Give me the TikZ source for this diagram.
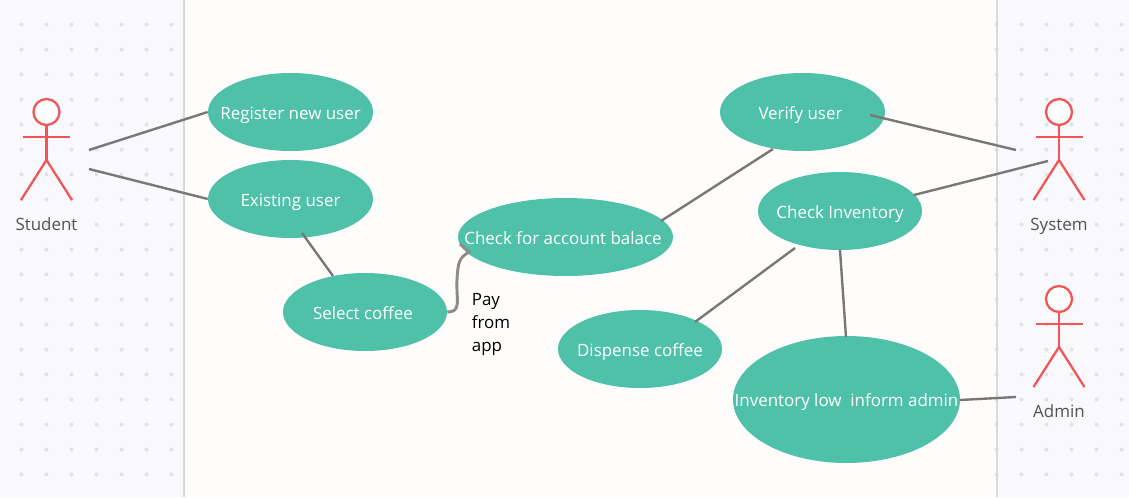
\documentclass[tikz,border=0pt]{standalone}
\usepackage{fontspec}
\setmainfont{Open Sans}
\usetikzlibrary{shapes.geometric}
\definecolor{bandfill}{HTML}{F9F9FD}
\definecolor{midfill}{HTML}{FEFDFB}
\definecolor{banddot}{HTML}{E2E2E4}
\definecolor{bandline}{HTML}{D9D9D7}
\definecolor{usefill}{HTML}{50C1A9}
\definecolor{actorred}{HTML}{F25555}
\definecolor{linkgrey}{HTML}{7A7876}
\newcommand{\casetext}[2][0pt]{\makebox[0pt]{\hspace*{#1}#2}}
\tikzset{
  usecase/.style={ellipse, fill=usefill, text=white, inner sep=0pt, text height=13.5pt, text depth=2.5pt, font=\fontsize{12.7pt}{15pt}\selectfont},
  actorlabel/.style={text=black!68, inner sep=0pt, text height=9pt, text depth=2.5pt, font=\fontsize{12.7pt}{15pt}\selectfont},
  link/.style={draw=linkgrey, line width=1.8pt},
  limb/.style={draw=actorred, line width=1.7pt},
  pics/actor/.style={code={
    \node[circle, draw=actorred, fill=white, line width=1.7pt, minimum size=19.5pt, inner sep=0pt] (-head) at (0,0) {};
    \draw[limb] (-head) -- (0,48);
    \draw[limb] (-23.5,25) -- (23.5,25);
    \draw[limb] (-25.5,88) -- (0,48) -- (25.5,88);
    \node[actorlabel] (-label) at (0,114.5) {#1};
  }}
}
\begin{document}
\begin{tikzpicture}[x=0.75pt, y=-0.75pt]
  \useasboundingbox (0,0) rectangle (1129,497);
  % panels
  \fill[bandfill] (0,0) rectangle (1129,497);
  \fill[midfill] (184,0) rectangle (997,497);
  \foreach \col in {21.5,46.5,...,175}
    \foreach \row in {24.5,49.5,...,497}
      \fill[banddot] (\col,\row) circle (1.5pt);
  \foreach \col in {996.5,1021.5,...,1129}
    \foreach \row in {24.5,49.5,...,497}
      \fill[banddot] (\col,\row) circle (1.5pt);
  \draw[bandline, line width=2.2pt] (184,0) -- (184,497);
  \draw[bandline, line width=2.2pt] (997,0) -- (997,497);

  % use cases
  \node[usecase, minimum width=123.75pt, minimum height=58.5pt] (register) at (290.5,112) {\casetext{Register new user}};
  \node[usecase, minimum width=123.75pt, minimum height=58.5pt] (existing) at (290.5,199) {\casetext{Existing user}};
  \node[usecase, minimum width=123pt, minimum height=58.5pt]    (select)   at (365,312)   {\casetext[-3pt]{Select coffee}};
  \node[usecase, minimum width=161.25pt, minimum height=58.5pt] (balance)  at (565.5,237) {\casetext[-3.75pt]{Check for account balace}};
  \node[usecase, minimum width=123.75pt, minimum height=58.5pt] (verify)   at (802.5,112) {\casetext[-3pt]{Verify user}};
  \node[usecase, minimum width=123pt, minimum height=58.5pt]    (stock)    at (840,211)   {\casetext{Check Inventory}};
  \node[usecase, minimum width=123pt, minimum height=58.5pt]    (dispense) at (640,349)   {\casetext{Dispense coffee}};
  \node[usecase, minimum width=170.25pt, minimum height=95.25pt] (low)     at (846.5,399.5) {\casetext{Inventory low\ \ inform admin}};
  \node[inner sep=0pt, align=left, text=black, font=\fontsize{12.7pt}{17.25pt}\selectfont] (pay) at (491,324) {Pay\\from\\app};

  % actors
  \pic (student) at (46.5,112) {actor=Student};
  \pic (system)  at (1059,112) {actor=System};
  \pic (admin)   at (1059,299) {actor=Admin};

  % free ends of the links
  \coordinate (studenta) at (89,150);
  \coordinate (studentb) at (89,169);
  \coordinate (systema)  at (1016,150);
  \coordinate (systemb)  at (1048,161);
  \coordinate (admina)   at (1016,397);
  \coordinate (existingb) at (302,233);
  \coordinate (selectt)  at (333,276);
  \coordinate (balancer) at (661,221);
  \coordinate (verifyb)  at (773,149);
  \coordinate (verifyr)  at (870,115);
  \coordinate (stockr)   at (914,195);
  \coordinate (stockl)   at (795,248);
  \coordinate (dispenser) at (695,322);
  \coordinate (stockb)   at (840,250);
  \coordinate (lowt)     at (846,337);
  \coordinate (lowr)     at (960,400);
  \coordinate (balancel) at (469,252);
  \coordinate (balancet) at (460,244);

  \draw[link] (studenta) -- (register.west);
  \draw[link] (studentb) -- (existing.west);
  \draw[link] (existingb) -- (selectt);
  \draw[link] (balancer) -- (verifyb);
  \draw[link] (verifyr) -- (systema);
  \draw[link] (stockr) -- (systemb);
  \draw[link] (stockl) -- (dispenser);
  \draw[link] (stockb) -- (lowt);
  \draw[link] (lowr) -- (admina);
  \draw[draw=linkgrey!85, line width=2.2pt] (select.east) .. controls (462,312) and (456,300) .. (457,280) .. controls (458,262) and (459,258) .. (balancel) -- (balancet);
\end{tikzpicture}
\end{document}
